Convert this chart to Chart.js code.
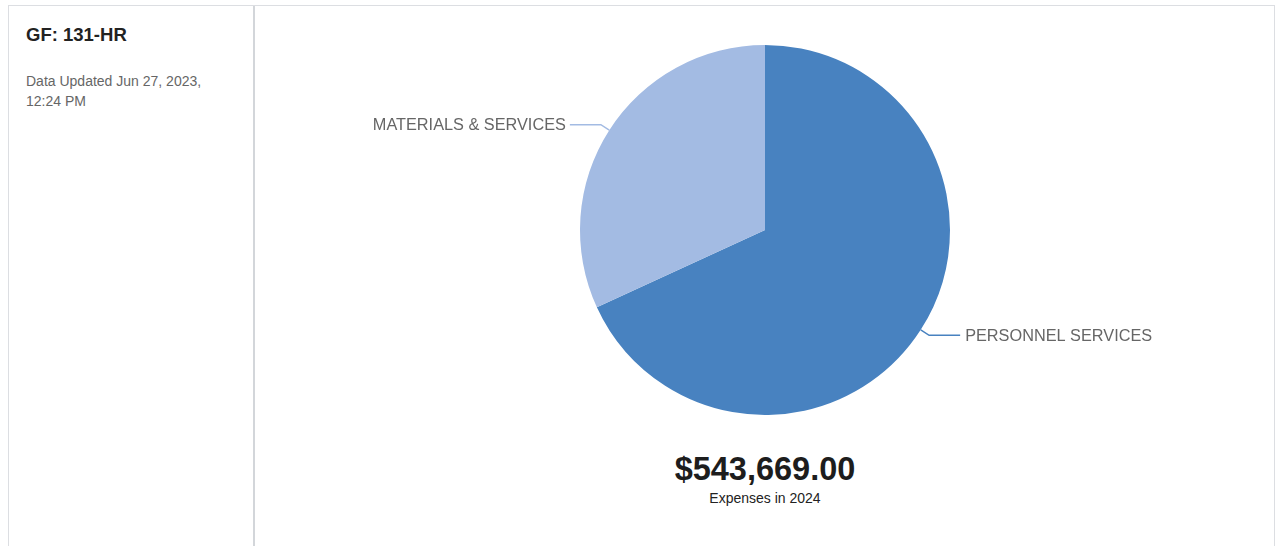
<!DOCTYPE html>
<html>
<head>
<meta charset="utf-8">
<title>GF: 131-HR</title>
<script src="https://cdn.jsdelivr.net/npm/chart.js@4.4.0/dist/chart.umd.min.js"></script>
<style>
  html, body { margin: 0; padding: 0; background: #fff; overflow: hidden; }
  body { width: 1278px; height: 546px; position: relative; font-family: "Liberation Sans", Arial, sans-serif; }
  .card {
    position: absolute; left: 8px; top: 5px; width: 1267px; height: 560px;
    border: 1px solid #dcdee2; box-sizing: border-box;
  }
  .side {
    position: absolute; left: 0; top: 0; width: 244px; height: 100%;
    border-right: 2px solid #d3d6da; box-sizing: content-box;
  }
  .side h1 {
    margin: 0; position: absolute; left: 17px; top: 18px;
    font-size: 18.5px; font-weight: bold; color: #222; line-height: 22px;
  }
  .side p {
    margin: 0; position: absolute; left: 17px; top: 65px;
    font-size: 14px; color: #666; line-height: 20px;
  }
  .chartBox { position: absolute; left: 246px; top: 39px; width: 1020px; height: 370px; }
  .total {
    position: absolute; left: 246px; width: 1020px; top: 444px; text-align: center;
    font-size: 32.5px; font-weight: bold; color: #1d1d1d; line-height: 38px;
  }
  .caption {
    position: absolute; left: 246px; width: 1020px; top: 483px; text-align: center;
    font-size: 14px; color: #222; line-height: 18px;
  }
</style>
</head>
<body>
<div class="card">
  <div class="side">
    <h1>GF: 131-HR</h1>
    <p>Data Updated Jun 27, 2023,<br>12:24 PM</p>
  </div>
  <div class="chartBox"><canvas id="pie"></canvas></div>
  <div class="total" id="total"></div>
  <div class="caption" id="caption"></div>
</div>
<script>
// Expense categories and amounts for fiscal year 2024
const categories = ["PERSONNEL SERVICES", "MATERIALS & SERVICES"];
const amounts = [370520, 173149];
const sliceColors = ["#4882c0", "#a3bbe3"];
const fiscalYear = 2024;

const total = amounts.reduce((a, b) => a + b, 0);
document.getElementById("total").textContent =
  "$" + total.toLocaleString("en-US", { minimumFractionDigits: 2, maximumFractionDigits: 2 });
document.getElementById("caption").textContent = "Expenses in " + fiscalYear;

// Leader lines with outside labels, placed from each arc's geometry
const outsideLabels = {
  id: "outsideLabels",
  afterDatasetsDraw(chart) {
    const ctx = chart.ctx;
    const meta = chart.getDatasetMeta(0);
    meta.data.forEach((arc, i) => {
      const p = arc.getProps(["x", "y", "startAngle", "endAngle", "outerRadius"], true);
      const mid = (p.startAngle + p.endAngle) / 2;
      const cos = Math.cos(mid), sin = Math.sin(mid);
      const x0 = p.x + cos * p.outerRadius;
      const y0 = p.y + sin * p.outerRadius;
      const x1 = p.x + cos * (p.outerRadius + 10);
      const y1 = p.y + sin * (p.outerRadius + 10);
      const right = cos >= 0;
      const x2 = x1 + (right ? 31 : -31);
      ctx.save();
      ctx.strokeStyle = sliceColors[i];
      ctx.lineWidth = 1.5;
      ctx.beginPath();
      ctx.moveTo(x0, y0);
      ctx.lineTo(x1, y1);
      ctx.lineTo(x2, y1);
      ctx.stroke();
      ctx.fillStyle = "#666";
      ctx.font = '16.3px "Liberation Sans", Arial, sans-serif';
      ctx.textBaseline = "middle";
      ctx.textAlign = right ? "left" : "right";
      ctx.fillText(categories[i], x2 + (right ? 5 : -4), y1 + 1);
      ctx.restore();
    });
  }
};

new Chart(document.getElementById("pie"), {
  type: "pie",
  data: {
    labels: categories,
    datasets: [{
      data: amounts,
      backgroundColor: sliceColors,
      borderWidth: 0
    }]
  },
  options: {
    responsive: true,
    maintainAspectRatio: false,
    animation: false,
    layout: { padding: 0 },
    plugins: {
      legend: { display: false },
      tooltip: { enabled: false }
    }
  },
  plugins: [outsideLabels]
});
</script>
</body>
</html>
